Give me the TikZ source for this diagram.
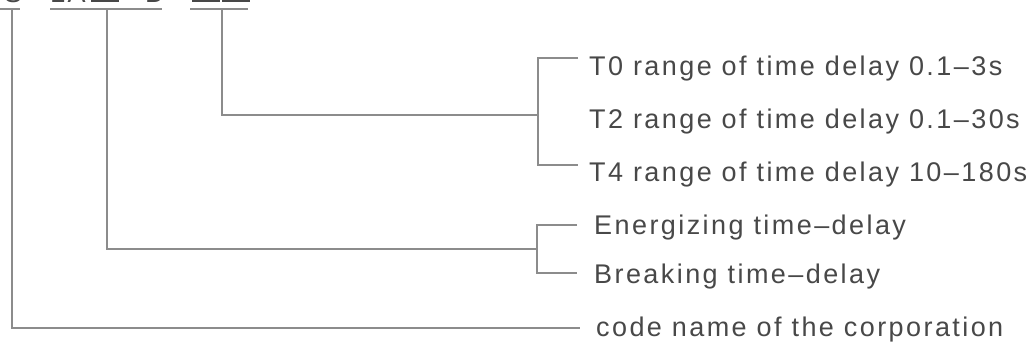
\documentclass[tikz,border=0pt]{standalone}
\usepackage{fontspec}
\setmainfont{Liberation Sans}[LetterSpace=9]
\usetikzlibrary{calc}
\definecolor{wiregray}{HTML}{8C8C8C}
\definecolor{textgray}{HTML}{484848}
\tikzset{wire/.style = {draw=wiregray, line width=1.8pt}}
\tikzset{desc/.style = {anchor=base west, inner sep=0pt, text=textgray, font=\fontsize{27}{32}\selectfont}}
\tikzset{slot/.style = {draw=textgray, line width=1.6pt, minimum width=26pt, minimum height=26pt, inner sep=0pt, anchor=south west}}

\begin{document}
\begin{tikzpicture}[x=1pt,y=-1pt]
            \useasboundingbox[fill=white] (0,0) rectangle (1036,352);
            \clip (0,0) rectangle (1036,352);

            % Model code (cut off at the top)
            \node[desc] (hc) at (4,3) {S};
            \node[desc] (hla) at (50,3) {LA};
            \node[slot] (hb1) at (91,2) {};
            \node[desc] (hd) at (145,3) {D};
            \node[slot] (hb2) at (192,2) {};
            \node[slot] (hb3) at (222,2) {};
            \draw[wire] (0,9) -- (20,9);
            \draw[wire] (50,9) -- (162,9);
            \draw[wire] (190,9) -- (248,9);
            \coordinate (s1) at (12,9);
            \coordinate (s2) at (107,9);
            \coordinate (s3) at (222,9);

            % Descriptions
            \node[desc] (t0) at (589,76) {T0 range of time delay 0.1--3s};
            \node[desc] (t2) at (589,129) {T2 range of time delay 0.1--30s};
            \node[desc] (t4) at (589,182) {T4 range of time delay 10--180s};
            \node[desc] (en) at (594,235) {Energizing time--delay};
            \node[desc] (br) at (594,284) {Breaking time--delay};
            \node[desc] (cn) at (596,337) {code name of the corporation};

            % Branches
            % time range
            \coordinate (j3) at (538,115);
            \draw[wire] (s3) |- (j3);
            \draw[wire] ([xshift=-11pt,yshift=18pt]t0.base west) -| (j3) |- ([xshift=-11pt,yshift=17pt]t4.base west);

            % delay type
            \coordinate (j2) at (537,249);
            \draw[wire] (s2) |- (j2);
            \draw[wire] ([xshift=-17pt,yshift=10pt]en.base west) -| (j2) |- ([xshift=-17pt,yshift=11pt]br.base west);

            % corporation
            \draw[wire] (s1) |- ([xshift=-16pt,yshift=9pt]cn.base west);
        \end{tikzpicture}
\end{document}
